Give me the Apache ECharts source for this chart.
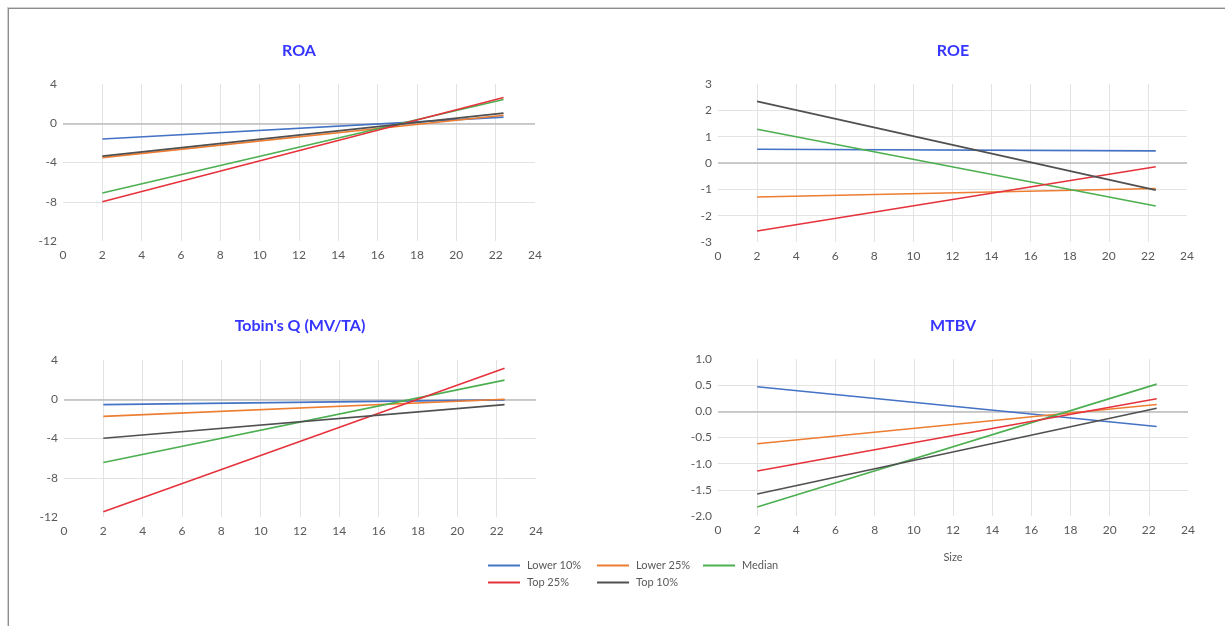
<!DOCTYPE html>
<html>
<head>
<meta charset="utf-8">
<script src="https://cdn.jsdelivr.net/npm/echarts@6/dist/echarts.min.js"></script>
<style>
  html, body { margin: 0; padding: 0; background: #ffffff; }
  #frame { position: absolute; left: 8px; top: 8px; width: 1217px; height: 618px; border-top: 1px solid #8c8c8c; border-left: 1px solid #8c8c8c; box-shadow: -1px -1px 0 #cfcfcf; }
  #chart { position: absolute; left: 0; top: 0; width: 1225px; height: 626px; }
</style>
</head>
<body>
<div id="frame"></div>
<div id="chart"></div>
<script>
// ---- data ----
const sizeX = [2, 22.4];
const seriesNames = ['Lower 10%', 'Lower 25%', 'Median', 'Top 25%', 'Top 10%'];
const panelTitles = ['ROA', 'ROE', "Tobin's Q (MV/TA)", 'MTBV'];
const xTicks = [0, 24, 2];           // min, max, interval
const roaTicks = [-12, 4, 4];
const roeTicks = [-3, 3, 1];
const tobinTicks = [-12, 4, 4];
const mtbvTicks = [-2, 1, 0.5];

// values at size = 2 and size = 22.4
const roaLower10 = [-1.6, 0.62];
const roaLower25 = [-3.5, 0.82];
const roaMedian  = [-7.1, 2.42];
const roaTop25   = [-8.0, 2.63];
const roaTop10   = [-3.35, 1.03];

const roeLower10 = [0.52, 0.46];
const roeLower25 = [-1.29, -0.97];
const roeMedian  = [1.28, -1.63];
const roeTop25   = [-2.58, -0.14];
const roeTop10   = [2.34, -1.03];

const tobinLower10 = [-0.55, -0.06];
const tobinLower25 = [-1.75, 0.0];
const tobinMedian  = [-6.44, 1.95];
const tobinTop25   = [-11.47, 3.15];
const tobinTop10   = [-3.97, -0.55];

const mtbvLower10 = [0.47, -0.29];
const mtbvLower25 = [-0.62, 0.13];
const mtbvMedian  = [-1.83, 0.52];
const mtbvTop25   = [-1.14, 0.24];
const mtbvTop10   = [-1.58, 0.06];

const panelValues = [
  [roaLower10, roaLower25, roaMedian, roaTop25, roaTop10],
  [roeLower10, roeLower25, roeMedian, roeTop25, roeTop10],
  [tobinLower10, tobinLower25, tobinMedian, tobinTop25, tobinTop10],
  [mtbvLower10, mtbvLower25, mtbvMedian, mtbvTop25, mtbvTop10]
];
const panelYTicks = [roaTicks, roeTicks, tobinTicks, mtbvTicks];

// ---- styling / layout ----
const colors = ['#4472C4', '#ED7D31', '#4CAF50', '#E5323B', '#505050'];
const FONT = 'Lato, "Open Sans", sans-serif';
const grids = [
  { left: 63, top: 84, width: 472, height: 157 },
  { left: 718, top: 84, width: 469, height: 158 },
  { left: 64, top: 360, width: 472, height: 157 },
  { left: 718, top: 359, width: 470, height: 157 }
];
const titleCenters = [[299, 43], [953, 43], [300, 318], [953, 318]];
const gridColor = '#e3e3e3';

const option = {
  animation: false,
  backgroundColor: 'transparent',
  textStyle: { fontFamily: FONT },
  title: panelTitles.map((t, i) => ({
    text: t,
    left: titleCenters[i][0],
    top: titleCenters[i][1],
    textAlign: 'center',
    padding: 0,
    textStyle: { color: '#3535FF', fontSize: 16, fontWeight: 'bold', fontFamily: FONT }
  })),
  grid: grids.map(g => Object.assign({ containLabel: false }, g)),
  xAxis: grids.map((g, i) => ({
    type: 'value',
    gridIndex: i,
    min: xTicks[0], max: xTicks[1], interval: xTicks[2],
    axisLine: { show: false },
    axisTick: { show: false },
    axisLabel: { color: '#595959', fontSize: 12, margin: 8, fontFamily: FONT },
    splitLine: { show: true, showMinLine: false, showMaxLine: false, lineStyle: { color: gridColor, width: 1 } },
    name: i === 3 ? 'Size' : '',
    nameLocation: 'middle',
    nameGap: 36,
    nameTextStyle: { color: '#595959', fontSize: 11, fontFamily: FONT }
  })),
  yAxis: grids.map((g, i) => ({
    type: 'value',
    gridIndex: i,
    min: panelYTicks[i][0], max: panelYTicks[i][1], interval: panelYTicks[i][2],
    axisLine: { show: false },
    axisTick: { show: false },
    axisLabel: {
      color: '#595959', fontSize: 12, margin: 6, fontFamily: FONT,
      formatter: i === 3 ? (v => v.toFixed(1)) : (v => String(v))
    },
    splitLine: { show: true, showMinLine: false, showMaxLine: false, lineStyle: { color: gridColor, width: 1 } }
  })),
  legend: [],
  series: []
};

// legends: two rows, columns aligned
const legendPos = [[488, 560], [597, 560], [703, 560], [488, 577], [597, 577]];
seriesNames.forEach((n, k) => {
  option.legend.push({
    data: [n],
    left: legendPos[k][0],
    top: legendPos[k][1],
    padding: 0,
    icon: 'rect',
    itemWidth: 32,
    itemHeight: 2,
    itemGap: 0,
    selectedMode: false,
    textStyle: { color: '#595959', fontSize: 11, fontFamily: FONT, padding: [0, 0, 0, 2] }
  });
});

panelValues.forEach((vals, p) => {
  vals.forEach((arr, k) => {
    const s = {
      name: seriesNames[k],
      type: 'line',
      xAxisIndex: p,
      yAxisIndex: p,
      data: sizeX.map((x, j) => [x, arr[j]]),
      symbol: 'none',
      lineStyle: { color: colors[k], width: 1.6 },
      itemStyle: { color: colors[k] },
      z: 3 + k
    };
    if (k === 0) {
      s.markLine = {
        silent: true,
        symbol: 'none',
        z: 1,
        label: { show: false },
        lineStyle: { color: '#bdbdbd', width: 1.5, type: 'solid' },
        data: [{ yAxis: 0 }]
      };
    }
    option.series.push(s);
  });
});

const chart = echarts.init(document.getElementById('chart'), null, { renderer: 'canvas' });
chart.setOption(option);
</script>
</body>
</html>
